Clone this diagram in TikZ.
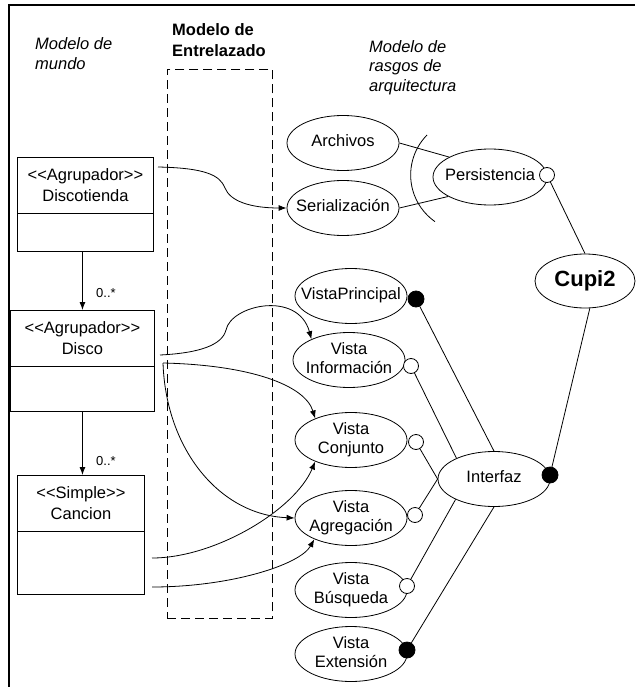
\documentclass[tikz,border=0pt]{standalone}
\usepackage{fontspec}
\setmainfont{Liberation Sans}
\usetikzlibrary{arrows.meta,calc,shapes.geometric}

% centred label of zero width, so the ellipse keeps its set size
\newcommand\uct[1]{\makebox[0pt]{\begin{tabular}{@{}c@{}}#1\end{tabular}}}
% UML stereotype in guillemet-like angle brackets, kept as plain < and >
\newcommand\stereo[1]{<\kern0pt<#1>\kern0pt>}

\begin{document}
\begin{tikzpicture}[x=1pt,y=-1pt,
  lbl/.style={font=\fontsize{16.5}{19}\selectfont},
  feat/.style={ellipse,draw,line width=0.8pt,minimum width=112pt,minimum height=55pt,inner sep=0pt,lbl},
  cls/.style={rectangle,draw,line width=0.9pt,anchor=north west,inner sep=0pt,align=center,font=\fontsize{16.5}{21}\selectfont},
  opendot/.style={circle,draw,fill=white,line width=0.8pt,minimum size=15pt,inner sep=0pt},
  fulldot/.style={circle,draw,fill=black,line width=0.8pt,minimum size=16pt,inner sep=0pt},
  arr/.style={-{Latex[length=8pt,width=6pt]},line width=0.8pt},
  link/.style={line width=0.8pt},
  mult/.style={anchor=west,inner sep=0pt,font=\fontsize{13}{15}\selectfont},
  title/.style={anchor=north west,inner sep=0pt,align=left,font=\fontsize{16.5}{20}\selectfont\itshape},
]
\useasboundingbox (0,0) rectangle (635,687);

% frame
\draw[line width=1.5pt] (9,687) -- (9,5) -- (635,5);

% headings
\node[title] (tmundo) at (35,37) {Modelo de\\mundo};
\node[title,font=\fontsize{16.5}{21}\selectfont\bfseries] (tweave) at (172,23) {Modelo de\\Entrelazado};
\node[title,font=\fontsize{16.5}{19.5}\selectfont\itshape] (trasgos) at (369,40) {Modelo de\\rasgos de\\arquitectura};

% weaving region
\node[draw,dash pattern=on 9pt off 5pt,line width=0.8pt,anchor=north west,
      minimum width=105pt,minimum height=549pt,inner sep=0pt] (weave) at (167,69) {};

% world model classes
\node[cls,minimum width=136pt,minimum height=56pt] (dt-t) at (17,157) {\stereo{Agrupador}\\Discotienda};
\node[cls,minimum width=136pt,minimum height=38pt] (dt-b) at (17,213) {};
\node[cls,minimum width=144pt,minimum height=56pt] (dc-t) at (10,310) {\stereo{Agrupador}\\Disco};
\node[cls,minimum width=144pt,minimum height=45pt] (dc-b) at (10,366) {};
\node[cls,minimum width=127pt,minimum height=56pt] (cn-t) at (17,475) {\stereo{Simple}\\Cancion};
\node[cls,minimum width=127pt,minimum height=63pt] (cn-b) at (17,531) {};

\draw[arr] (dt-b.south -| dc-t.south) -- (dc-t.north);
\draw[arr] (dc-b.south) -- (dc-b.south |- cn-t.north);
\node[mult] (m1) at (96,293) {0..*};
\node[mult] (m2) at (96,461) {0..*};

% architecture features
\node[feat] (arch) at (343,143) {\uct{Archivos}};
\node[feat] (ser) at (343,208) {\uct{Serialización}};
\node[feat,minimum width=114pt,minimum height=56pt] (pers) at (490,177) {\uct{Persistencia}};
\node[feat,minimum width=100pt,minimum height=54pt,font=\fontsize{22}{26}\selectfont\bfseries] (cupi) at (585,281) {\uct{Cupi2}};
\node[feat] (vp) at (351,296) {\uct{VistaPrincipal}};
\node[feat] (vinfo) at (349,360) {\uct{Vista\\Información}};
\node[feat] (vconj) at (351,440) {\uct{Vista\\Conjunto}};
\node[feat] (vagr) at (351,518) {\uct{Vista\\Agregación}};
\node[feat] (vbus) at (351,590) {\uct{Vista\\Búsqueda}};
\node[feat] (vext) at (351,654) {\uct{Vista\\Extensión}};
\node[feat] (intf) at (494,479) {\uct{Interfaz}};

% optional / mandatory markers
\node[opendot] (persc) at (547,175) {};
\node[fulldot] (vpc) at (416,299) {};
\node[opendot] (vinfoc) at (411,366) {};
\node[opendot] (vconjc) at (416,442) {};
\node[opendot] (vagrc) at (415,515) {};
\node[opendot] (vbusc) at (407,586) {};
\node[fulldot] (vextc) at (407,650) {};
\node[fulldot] (intfc) at (550,475) {};

% feature tree links
\draw[link] (arch.east) -- (pers.154);
\draw[link] (ser.east) -- (pers.205);
\draw[link] (427,135) arc[start angle=224.5,end angle=125,radius=57];
\draw[link] (persc) -- (cupi.north);
\draw[link] (cupi.-80) -- (intfc);
\draw[link] (vpc) -- (intf.north);
\draw[link] (vinfoc) -- (intf.151);
\draw[link] (vconjc) -- (intf.west);
\draw[link] (vagrc) -- (intf.west);
\draw[link] (vbusc) -- (intf.208);
\draw[link] (vextc) -- (intf.south);

% weaving relations
\coordinate (s1) at (158,167);
\coordinate (s2) at (160,355);
\coordinate (s3) at (163,363);
\coordinate (s4) at (152,558);
\coordinate (s5) at (152,587);
\draw[arr] (s1) .. controls (205,168) and (220,175) .. (225,188)
                .. controls (230,201) and (250,208) .. (ser.west);
\draw[arr] (s2) .. controls (200,353) and (222,345) .. (226,330)
                .. controls (231,305) and (298,290) .. (vinfo.151);
\draw[arr] (s3) .. controls (250,365) and (305,385) .. (vconj.149);
\draw[arr] (s3) .. controls (166,450) and (220,515) .. (vagr.west);
\draw[arr] (s4) .. controls (215,558) and (295,510) .. (vconj.211);
\draw[arr] (s5) .. controls (230,587) and (300,565) .. (vagr.210);
\end{tikzpicture}
\end{document}
